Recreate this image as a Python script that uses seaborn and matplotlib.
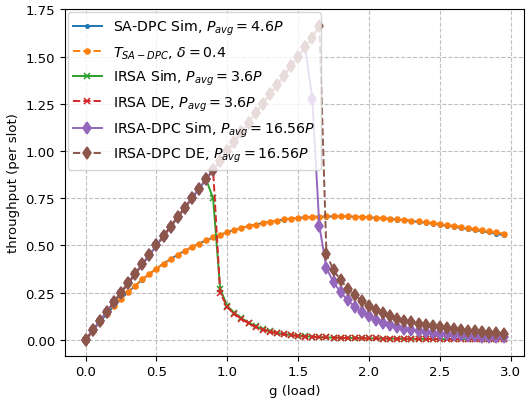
import numpy as np
import seaborn as sns
import matplotlib.pyplot as plt

# load values g = 0.00, 0.05, ..., 2.95
g = np.round(np.arange(60) * 0.05, 2)

# SA-DPC theory and simulation
sa_dpc_theory = [0.000, 0.049, 0.095, 0.138, 0.179, 0.217, 0.253, 0.288, 0.320, 0.349,
                 0.378, 0.404, 0.428, 0.451, 0.472, 0.492, 0.510, 0.527, 0.543, 0.557,
                 0.570, 0.582, 0.593, 0.603, 0.611, 0.619, 0.626, 0.632, 0.638, 0.642,
                 0.646, 0.649, 0.651, 0.653, 0.654, 0.655, 0.655, 0.654, 0.653, 0.652,
                 0.650, 0.648, 0.645, 0.642, 0.639, 0.636, 0.632, 0.628, 0.623, 0.619,
                 0.614, 0.609, 0.603, 0.598, 0.592, 0.587, 0.581, 0.575, 0.569, 0.562]
sa_dpc_sim = [0.000, 0.049, 0.095, 0.138, 0.178, 0.217, 0.253, 0.287, 0.319, 0.349,
              0.377, 0.404, 0.428, 0.451, 0.472, 0.492, 0.510, 0.527, 0.543, 0.557,
              0.570, 0.582, 0.593, 0.602, 0.611, 0.619, 0.626, 0.632, 0.637, 0.642,
              0.646, 0.649, 0.651, 0.652, 0.653, 0.654, 0.654, 0.653, 0.652, 0.651,
              0.649, 0.646, 0.643, 0.640, 0.637, 0.633, 0.629, 0.625, 0.620, 0.615,
              0.610, 0.605, 0.599, 0.593, 0.587, 0.581, 0.575, 0.569, 0.562, 0.555]

# IRSA, P_avg = 3.6P
irsa_sim = [0.00, 0.05, 0.10, 0.15, 0.20, 0.25, 0.30, 0.35, 0.40, 0.45,
            0.50, 0.55, 0.60, 0.65, 0.70, 0.75, 0.80, 0.85, 0.75, 0.27,
            0.180, 0.143, 0.115, 0.092, 0.071, 0.057, 0.046, 0.037, 0.031, 0.026,
            0.022, 0.019, 0.017, 0.015, 0.013, 0.012, 0.011, 0.010, 0.009, 0.009,
            0.008, 0.008, 0.007, 0.007, 0.006, 0.006, 0.006, 0.005, 0.005, 0.005,
            0.004, 0.004, 0.004, 0.004, 0.003, 0.003, 0.003, 0.003, 0.003, 0.003]
irsa_de = [0.00, 0.05, 0.10, 0.15, 0.20, 0.25, 0.30, 0.35, 0.40, 0.45,
           0.50, 0.55, 0.60, 0.65, 0.70, 0.75, 0.80, 0.85, 0.90, 0.25,
           0.173, 0.138, 0.111, 0.088, 0.068, 0.054, 0.043, 0.035, 0.029, 0.024,
           0.021, 0.018, 0.016, 0.014, 0.013, 0.012, 0.011, 0.010, 0.009, 0.009,
           0.008, 0.008, 0.007, 0.007, 0.006, 0.006, 0.006, 0.005, 0.005, 0.005,
           0.004, 0.004, 0.004, 0.004, 0.003, 0.003, 0.003, 0.003, 0.003, 0.003]

# IRSA-DPC, P_avg = 16.56P
irsa_dpc_sim = [0.00, 0.05, 0.10, 0.15, 0.20, 0.25, 0.30, 0.35, 0.40, 0.45,
                0.50, 0.55, 0.60, 0.65, 0.70, 0.75, 0.80, 0.85, 0.90, 0.95,
                1.00, 1.05, 1.10, 1.15, 1.20, 1.25, 1.30, 1.35, 1.40, 1.45,
                1.50, 1.55, 1.278, 0.603, 0.380, 0.306, 0.253, 0.210, 0.175, 0.148,
                0.126, 0.106, 0.090, 0.077, 0.066, 0.058, 0.052, 0.046, 0.041, 0.037,
                0.033, 0.030, 0.027, 0.024, 0.022, 0.020, 0.018, 0.016, 0.014, 0.013]
irsa_dpc_de = [0.00, 0.05, 0.10, 0.15, 0.20, 0.25, 0.30, 0.35, 0.40, 0.45,
               0.50, 0.55, 0.60, 0.65, 0.70, 0.75, 0.80, 0.85, 0.90, 0.95,
               1.00, 1.05, 1.10, 1.15, 1.20, 1.25, 1.30, 1.35, 1.40, 1.45,
               1.50, 1.55, 1.60, 1.665, 0.455, 0.370, 0.316, 0.272, 0.238, 0.208,
               0.180, 0.160, 0.142, 0.126, 0.113, 0.102, 0.093, 0.085, 0.078, 0.072,
               0.066, 0.061, 0.057, 0.053, 0.049, 0.046, 0.042, 0.039, 0.036, 0.033]

series = [
    (sa_dpc_sim, r"SA-DPC Sim, $P_{avg} = 4.6P$", "C0", ".", "-", 5),
    (sa_dpc_theory, r"$T_{SA-DPC}$, $\delta = 0.4$", "C1", "o", "--", 3.6),
    (irsa_sim, r"IRSA Sim, $P_{avg} = 3.6P$", "C2", "x", "-", 5),
    (irsa_de, r"IRSA DE, $P_{avg} = 3.6P$", "C3", "x", "--", 5),
    (irsa_dpc_sim, r"IRSA-DPC Sim, $P_{avg} = 16.56P$", "C4", "d", "-", 6.3),
    (irsa_dpc_de, r"IRSA-DPC DE, $P_{avg} = 16.56P$", "C5", "d", "--", 6.3),
]

fig, ax = plt.subplots(figsize=(5.26, 4.02), dpi=100)
fig.subplots_adjust(left=0.123, right=0.997, top=0.974, bottom=0.113)

for vals, lab, col, mk, ls, ms in series:
    sns.lineplot(x=g, y=vals, ax=ax, label=lab, color=col, marker=mk, linestyle=ls,
                 markersize=ms, markeredgecolor=col, markeredgewidth=1.1, linewidth=1.4)

ax.grid(True, linestyle="--", color="0.75", linewidth=0.8)
ax.set_xlabel("g (load)", fontsize=9.5)
ax.set_ylabel("throughput (per slot)", fontsize=9.5)
ax.tick_params(labelsize=9.5)
ax.set_yticks(np.arange(0, 1.76, 0.25))
ax.set_ylim(-0.083, 1.75)
ax.set_xlim(-0.1475, 3.0975)
ax.legend(loc="upper left", fontsize=10.2, borderaxespad=0.2)

plt.savefig("out.png", dpi=100)
